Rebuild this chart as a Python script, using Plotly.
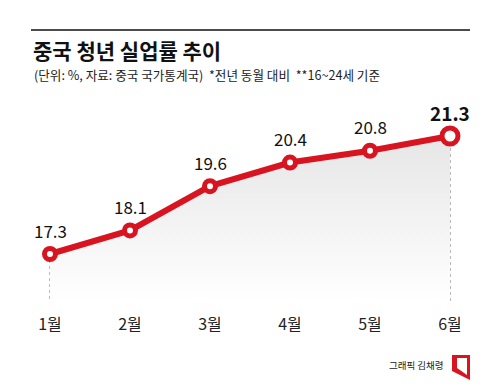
import plotly.graph_objects as go

months = ["1월", "2월", "3월", "4월", "5월", "6월"]
rates = [17.3, 18.1, 19.6, 20.4, 20.8, 21.3]
x_idx = [1, 2, 3, 4, 5, 6]

title_text = "중국 청년 실업률 추이"
subtitle_text = "(단위: %, 자료: 중국 국가통계국)  *전년 동월 대비  **16~24세 기준"
credit_text = "그래픽 김채령"

RED = "#d7141f"
FONT = "Noto Sans CJK KR"
W, H = 500, 392
PLOT_H = 302  # plot area from top pixel 0 to 302

Y_TOP = 25.91
Y_BOT = 15.673
X_RANGE = [0.375, 6.625]

def py(p):
    return 1 - p / PLOT_H

def px(p):
    return p / W

fig = go.Figure()

# dotted drop lines
dx, dy = [], []
for xi, v in zip(x_idx, rates):
    dx += [xi, xi, None]
    dy += [v, Y_BOT, None]
fig.add_trace(go.Scatter(x=dx, y=dy, mode="lines",
                         line=dict(color="#777777", width=1, dash="dot"),
                         hoverinfo="skip", showlegend=False))

# gradient area
fig.add_trace(go.Scatter(x=x_idx, y=rates, mode="lines", line=dict(width=0),
                         fill="tozeroy",
                         fillgradient=dict(type="vertical",
                                           colorscale=[[0, "rgba(255,255,255,1)"], [1, "rgba(230,230,230,1)"]],
                                           start=Y_BOT, stop=max(rates)),
                         hoverinfo="skip", showlegend=False))

# main line
sizes = [11] * (len(rates) - 1) + [16]
fig.add_trace(go.Scatter(x=x_idx, y=rates, mode="lines+markers",
                         line=dict(color=RED, width=6),
                         marker=dict(size=sizes, color="white", opacity=1,
                                     line=dict(color=RED, width=5)),
                         showlegend=False))

# value labels
for i, (xi, v) in enumerate(zip(x_idx, rates)):
    last = i == len(rates) - 1
    fig.add_annotation(x=xi, y=v, text=(f"<b>{v}</b>" if last else f"{v}"),
                       showarrow=False, yshift=24, yanchor="middle",
                       font=dict(family=FONT, size=19 if last else 17, color="#111111"))

# header
fig.add_shape(type="line", xref="paper", yref="paper",
              x0=px(31), x1=px(470), y0=py(30), y1=py(30),
              line=dict(color="#111111", width=1.3))
fig.add_annotation(xref="paper", yref="paper", x=px(31), y=py(50), xanchor="left", yanchor="middle",
                   text=f"<b>{title_text}</b>", showarrow=False,
                   font=dict(family=FONT, size=21, color="#111111"))
fig.add_annotation(xref="paper", yref="paper", x=px(32), y=py(74), xanchor="left", yanchor="middle",
                   text=subtitle_text, showarrow=False,
                   font=dict(family=FONT, size=12.6, color="#222222"))

# credit + logo
fig.add_annotation(xref="paper", yref="paper", x=px(446), y=py(365), xanchor="right", yanchor="middle",
                   text=credit_text, showarrow=False,
                   font=dict(family=FONT, size=9.5, color="#222222"))
fig.add_shape(type="path", xref="paper", yref="paper",
              path=f"M {px(452)},{py(355)} L {px(470)},{py(355)} L {px(470)},{py(380)} L {px(452)},{py(371)} Z",
              fillcolor=RED, line=dict(width=0))
fig.add_shape(type="path", xref="paper", yref="paper",
              path=f"M {px(457)},{py(358)} L {px(467)},{py(358)} L {px(467)},{py(375)} L {px(457)},{py(368)} Z",
              fillcolor="white", line=dict(width=0))

fig.update_layout(
    width=W, height=H,
    margin=dict(l=0, r=0, t=0, b=H - PLOT_H),
    paper_bgcolor="white", plot_bgcolor="white",
    xaxis=dict(range=X_RANGE, tickvals=x_idx, ticktext=months, showgrid=False, zeroline=False,
               showline=False, ticks="outside", ticklen=8, tickcolor="rgba(0,0,0,0)",
               tickfont=dict(family=FONT, size=16, color="#222222")),
    yaxis=dict(range=[Y_BOT, Y_TOP], showgrid=False, zeroline=False, showticklabels=False,
               showline=False),
    showlegend=False,
)

fig.write_html("out.html", config={"displayModeBar": False},
               post_script="document.body.style.margin='0';document.body.style.overflow='hidden';")
